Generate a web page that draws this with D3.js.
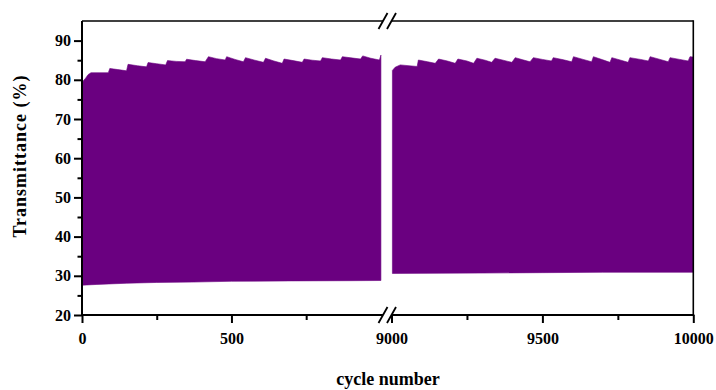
<!DOCTYPE html>
<html>
<head>
<meta charset="utf-8">
<script src="https://cdn.jsdelivr.net/npm/d3@7"></script>
<style>
  html, body { margin: 0; padding: 0; background: #fff; }
  svg { display: block; }
  .tick text { font-family: "Liberation Serif", "Times New Roman", serif; font-weight: bold; font-size: 16px; fill: #000; }
</style>
</head>
<body>
<div id="chart"></div>
<script>
// ---------------- data ----------------
const yTicks = [20, 30, 40, 50, 60, 70, 80, 90];
const yMinorTicks = [25, 35, 45, 55, 65, 75, 85];
const leftXTicks = [0, 500];
const leftXMinor = [250, 750];
const rightXTicks = [9000, 9500, 10000];
const rightXMinor = [9250, 9750];

// upper envelope of the oscillating transmittance, cycles 0-1000
const leftTopCycles = [0, 5, 12, 20, 30, 60, 88, 93, 120, 149, 154, 185, 216, 221, 250, 280, 286, 315, 345, 350, 380, 412, 423, 450, 479, 484, 512, 540, 547, 578, 607, 614, 642, 670, 676, 706, 737, 743, 770, 798, 804, 835, 865, 871, 900, 932, 939, 966, 995, 1000];
const leftTopValues = [78.8, 79.8, 80.4, 81.3, 81.8, 81.8, 81.8, 82.9, 82.6, 82.3, 83.95, 83.6, 83.3, 84.4, 84.1, 83.8, 84.9, 84.7, 84.6, 85.25, 84.9, 84.6, 85.9, 85.4, 85.05, 85.9, 85.2, 84.6, 85.65, 85.0, 84.45, 85.5, 84.8, 84.2, 85.3, 84.9, 84.45, 85.3, 85.0, 84.8, 85.65, 85.3, 85.05, 85.9, 85.6, 85.3, 86.1, 85.5, 85.05, 86.3];
// lower envelope, cycles 0-1000
const leftBottomCycles = [0, 50, 150, 250, 372, 500, 700, 900, 1000];
const leftBottomValues = [27.6, 27.8, 28.1, 28.3, 28.4, 28.6, 28.7, 28.75, 28.8];

// upper envelope, cycles 9000-10000
const rightTopCycles = [9003, 9012, 9029, 9085, 9089, 9120, 9145, 9156, 9185, 9211, 9220, 9250, 9272, 9283, 9310, 9332, 9343, 9370, 9399, 9410, 9435, 9459, 9470, 9500, 9530, 9536, 9570, 9597, 9603, 9635, 9663, 9669, 9700, 9724, 9730, 9760, 9784, 9790, 9825, 9851, 9857, 9890, 9917, 9923, 9955, 9983, 9989, 10000];
const rightTopValues = [82.4, 83.2, 83.8, 83.4, 85.05, 84.6, 84.2, 85.3, 84.8, 84.2, 85.3, 84.8, 84.2, 85.5, 85.0, 84.45, 85.5, 85.0, 84.45, 85.65, 85.1, 84.6, 85.65, 85.2, 84.8, 85.65, 85.1, 84.6, 85.9, 85.2, 84.6, 85.9, 85.1, 84.45, 85.65, 85.0, 84.45, 85.65, 85.2, 84.8, 85.9, 85.2, 84.6, 85.65, 85.2, 84.8, 85.9, 85.8];
// lower envelope, cycles 9000-10000
const rightBottomCycles = [9003, 9300, 9500, 9700, 10000];
const rightBottomValues = [30.6, 30.7, 30.8, 30.9, 30.9];

const xTitle = "cycle number";
const yTitle = "Transmittance (%)";

// ---------------- layout ----------------
const W = 716, H = 390;
const plotLeft = 82, plotRight = 693.3, plotTop = 21, plotBottom = 315;
const breakL = 383, breakR = 391.5;
const fillColor = "#6a0080";

const svg = d3.select("#chart").append("svg").attr("width", W).attr("height", H);
svg.append("rect").attr("width", W).attr("height", H).attr("fill", "#fff");

const y = d3.scaleLinear().domain([20, 95]).range([plotBottom, plotTop]);
const xL = d3.scaleLinear().domain([0, 1007]).range([plotLeft, breakL]);
const xR = d3.scaleLinear().domain([9000, 10000]).range([breakR, plotRight]);

function band(x, topC, topV, botC, botV) {
  const top = topC.map((c, i) => [c, topV[i]]);
  const bot = botC.map((c, i) => [c, botV[i]]).reverse();
  const pts = top.concat(bot);
  return d3.line().x(d => x(d[0])).y(d => y(d[1]))(pts) + "Z";
}

svg.append("path").attr("d", band(xL, leftTopCycles, leftTopValues, leftBottomCycles, leftBottomValues))
  .attr("fill", fillColor).attr("stroke", fillColor).attr("stroke-width", 0.6);
svg.append("path").attr("d", band(xR, rightTopCycles, rightTopValues, rightBottomCycles, rightBottomValues))
  .attr("fill", fillColor).attr("stroke", fillColor).attr("stroke-width", 0.6);

// ---------------- axes ----------------
function styleAxis(g, sw) {
  g.select(".domain").remove();
  g.selectAll(".tick line").attr("stroke", "#000").attr("stroke-width", sw);
}
// y axis major + minor
svg.append("g").attr("transform", `translate(${plotLeft},0)`)
  .call(d3.axisLeft(y).tickValues(yTicks).tickSize(8).tickPadding(3).tickSizeOuter(0))
  .call(g => styleAxis(g, 2));
svg.append("g").attr("transform", `translate(${plotLeft},0)`)
  .call(d3.axisLeft(y).tickValues(yMinorTicks).tickSize(4.5).tickFormat("").tickSizeOuter(0))
  .call(g => styleAxis(g, 2));

// x axes
function xAxis(scale, major, minor) {
  svg.append("g").attr("transform", `translate(0,${plotBottom})`)
    .call(d3.axisBottom(scale).tickValues(major).tickSize(8).tickPadding(10).tickFormat(d3.format("d")).tickSizeOuter(0))
    .call(g => styleAxis(g, 2));
  svg.append("g").attr("transform", `translate(0,${plotBottom})`)
    .call(d3.axisBottom(scale).tickValues(minor).tickSize(5).tickFormat("").tickSizeOuter(0))
    .call(g => styleAxis(g, 2));
}
xAxis(xL, leftXTicks, leftXMinor);
xAxis(xR, rightXTicks, rightXMinor);

// axis lines and frame
const frame = svg.append("g").attr("stroke", "#000").attr("fill", "none");
frame.append("line").attr("x1", plotLeft).attr("x2", plotLeft).attr("y1", plotTop).attr("y2", plotBottom + 1).attr("stroke-width", 2);
frame.append("line").attr("x1", plotLeft - 1).attr("x2", breakL).attr("y1", plotBottom).attr("y2", plotBottom).attr("stroke-width", 2);
frame.append("line").attr("x1", breakR).attr("x2", plotRight + 1).attr("y1", plotBottom).attr("y2", plotBottom).attr("stroke-width", 2);
frame.append("line").attr("x1", plotLeft).attr("x2", breakL).attr("y1", plotTop).attr("y2", plotTop).attr("stroke-width", 1.6);
frame.append("line").attr("x1", breakR).attr("x2", plotRight).attr("y1", plotTop).attr("y2", plotTop).attr("stroke-width", 1.6);
frame.append("line").attr("x1", plotRight).attr("x2", plotRight).attr("y1", plotTop - 0.8).attr("y2", plotBottom).attr("stroke-width", 1.6);

// break marks
[plotTop, plotBottom].forEach(yy => {
  [breakL, breakR].forEach(cx => {
    frame.append("line").attr("x1", cx - 4.5).attr("y1", yy + 8).attr("x2", cx + 4.5).attr("y2", yy - 8).attr("stroke-width", 1.8);
  });
});

// titles
svg.append("text").attr("x", 388).attr("y", 385).attr("text-anchor", "middle")
  .attr("font-family", "Liberation Serif, Times New Roman, serif").attr("font-weight", "bold")
  .attr("font-size", 18).text(xTitle);
svg.append("text").attr("transform", "translate(26,156) rotate(-90)").attr("text-anchor", "middle")
  .attr("font-family", "Liberation Serif, Times New Roman, serif").attr("font-weight", "bold")
  .attr("font-size", 18).attr("letter-spacing", 1).text(yTitle);
</script>
</body>
</html>
